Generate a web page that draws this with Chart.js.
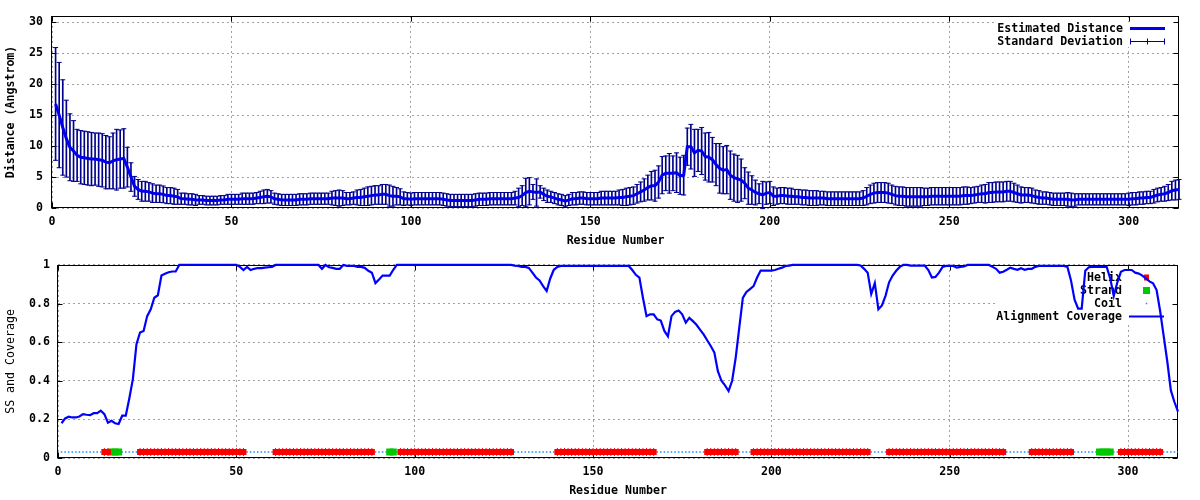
<!DOCTYPE html>
<html>
<head>
<meta charset="utf-8">
<title>Estimated distance and alignment coverage</title>
<script src="https://cdn.jsdelivr.net/npm/chart.js@4.4.1/dist/chart.umd.min.js"></script>
<style>
  body { margin: 0; background: #fff; }
  .panel { position: absolute; left: 0; width: 1200px; height: 250px; }
</style>
</head>
<body>
<div class="panel" style="top:0"><canvas id="distChart" width="1200" height="250"></canvas></div>
<div class="panel" style="top:250px"><canvas id="covChart" width="1200" height="250"></canvas></div>
<script>
// estimated distance per residue (Angstrom), residues 1..314
const meanDist = [
  16.8, 15.0, 13.0, 11.2, 9.8, 9.2, 8.5, 8.2, 8.1, 8.0,
  7.9, 7.9, 7.8, 7.7, 7.4, 7.3, 7.6, 7.8, 7.9, 8.0,
  6.6, 5.0, 3.5, 3.0, 2.7, 2.7, 2.6, 2.4, 2.3, 2.3,
  2.2, 2.0, 2.0, 1.9, 1.8, 1.5, 1.5, 1.4, 1.4, 1.3,
  1.3, 1.3, 1.2, 1.2, 1.2, 1.2, 1.3, 1.3, 1.4, 1.4,
  1.4, 1.4, 1.5, 1.5, 1.5, 1.5, 1.6, 1.7, 1.8, 1.9,
  1.8, 1.5, 1.4, 1.3, 1.3, 1.3, 1.3, 1.3, 1.4, 1.4,
  1.4, 1.5, 1.5, 1.5, 1.5, 1.5, 1.5, 1.6, 1.6, 1.6,
  1.6, 1.5, 1.5, 1.6, 1.7, 1.7, 1.8, 1.9, 2.0, 2.1,
  2.1, 2.2, 2.2, 2.0, 1.9, 1.9, 1.8, 1.5, 1.5, 1.4,
  1.5, 1.5, 1.5, 1.5, 1.5, 1.5, 1.5, 1.5, 1.4, 1.3,
  1.2, 1.2, 1.2, 1.2, 1.2, 1.2, 1.2, 1.3, 1.4, 1.4,
  1.4, 1.5, 1.5, 1.5, 1.5, 1.5, 1.5, 1.5, 1.6, 1.7,
  2.0, 2.5, 2.7, 2.6, 2.5, 2.6, 2.2, 1.9, 1.8, 1.6,
  1.4, 1.3, 1.1, 1.3, 1.5, 1.5, 1.6, 1.6, 1.5, 1.5,
  1.5, 1.5, 1.6, 1.6, 1.6, 1.6, 1.6, 1.7, 1.7, 1.8,
  1.9, 2.0, 2.3, 2.6, 2.9, 3.3, 3.6, 3.6, 4.2, 5.3,
  5.6, 5.6, 5.6, 5.7, 5.2, 5.3, 9.9, 9.9, 8.9, 9.3,
  9.2, 8.3, 8.2, 7.8, 7.0, 6.4, 6.1, 6.2, 5.3, 4.9,
  4.7, 4.5, 4.0, 3.2, 2.9, 2.5, 2.3, 2.1, 2.4, 2.5,
  1.9, 1.9, 2.0, 2.0, 1.9, 1.9, 1.8, 1.8, 1.7, 1.7,
  1.6, 1.6, 1.6, 1.6, 1.6, 1.5, 1.5, 1.5, 1.5, 1.5,
  1.5, 1.5, 1.5, 1.5, 1.5, 1.6, 1.9, 2.2, 2.4, 2.5,
  2.5, 2.5, 2.4, 2.2, 2.0, 1.9, 1.9, 1.8, 1.8, 1.8,
  1.8, 1.8, 1.8, 1.8, 1.9, 1.9, 1.9, 1.9, 1.9, 1.9,
  1.9, 1.9, 1.9, 2.0, 2.0, 2.0, 2.1, 2.2, 2.3, 2.3,
  2.5, 2.5, 2.6, 2.6, 2.6, 2.7, 2.7, 2.5, 2.3, 2.1,
  2.1, 2.1, 2.0, 1.8, 1.7, 1.6, 1.6, 1.5, 1.4, 1.4,
  1.4, 1.4, 1.4, 1.3, 1.3, 1.4, 1.4, 1.4, 1.4, 1.4,
  1.4, 1.4, 1.4, 1.4, 1.4, 1.4, 1.4, 1.4, 1.4, 1.4,
  1.5, 1.5, 1.6, 1.6, 1.7, 1.7, 1.9, 2.1, 2.2, 2.3,
  2.5, 2.8, 2.9, 3.0
];

// standard deviation per residue
const sdDist = [
  9.1, 8.5, 7.7, 6.2, 5.4, 4.9, 4.2, 4.3, 4.3, 4.3,
  4.3, 4.2, 4.3, 4.3, 4.3, 4.2, 4.5, 4.9, 4.7, 4.8,
  3.2, 2.3, 1.6, 1.6, 1.6, 1.6, 1.5, 1.5, 1.4, 1.4,
  1.35, 1.3, 1.3, 1.3, 1.2, 0.9, 0.9, 0.9, 0.9, 0.9,
  0.7, 0.7, 0.7, 0.7, 0.7, 0.7, 0.7, 0.7, 0.8, 0.8,
  0.8, 0.8, 0.9, 0.9, 0.9, 0.9, 0.9, 1.0, 1.1, 1.1,
  1.0, 0.9, 0.9, 0.9, 0.9, 0.9, 0.9, 0.9, 0.9, 0.9,
  0.9, 0.9, 0.9, 0.9, 0.9, 0.9, 0.9, 1.1, 1.2, 1.3,
  1.2, 1.0, 1.0, 1.0, 1.2, 1.3, 1.4, 1.5, 1.5, 1.5,
  1.5, 1.6, 1.6, 1.7, 1.6, 1.4, 1.3, 1.1, 1.0, 1.0,
  1.0, 1.0, 1.0, 1.0, 1.0, 1.0, 1.0, 1.0, 1.0, 1.0,
  1.0, 1.0, 1.0, 1.0, 1.0, 1.0, 1.0, 1.0, 1.0, 1.0,
  1.0, 1.0, 1.0, 1.0, 1.0, 1.0, 1.0, 1.0, 1.1, 1.5,
  1.6, 2.3, 2.2, 1.2, 2.2, 1.0, 1.0, 1.0, 0.9, 0.9,
  0.9, 0.9, 0.9, 0.9, 1.0, 1.0, 1.0, 1.0, 1.0, 1.0,
  1.0, 1.0, 1.1, 1.1, 1.1, 1.1, 1.1, 1.2, 1.3, 1.4,
  1.4, 1.4, 1.5, 1.6, 1.8, 2.0, 2.3, 2.5, 2.6, 3.0,
  2.8, 3.2, 2.8, 3.2, 3.0, 3.2, 3.0, 3.6, 3.8, 3.4,
  3.8, 3.8, 4.0, 3.6, 3.4, 4.0, 3.8, 3.9, 3.9, 3.8,
  3.8, 3.4, 2.5, 2.6, 2.3, 2.0, 1.6, 2.2, 1.8, 1.8,
  1.5, 1.3, 1.3, 1.3, 1.3, 1.3, 1.2, 1.2, 1.2, 1.2,
  1.2, 1.2, 1.2, 1.1, 1.1, 1.1, 1.1, 1.1, 1.1, 1.1,
  1.1, 1.1, 1.1, 1.1, 1.1, 1.2, 1.4, 1.5, 1.6, 1.6,
  1.6, 1.6, 1.6, 1.5, 1.5, 1.5, 1.5, 1.5, 1.5, 1.5,
  1.5, 1.5, 1.4, 1.4, 1.4, 1.4, 1.4, 1.4, 1.4, 1.4,
  1.4, 1.4, 1.4, 1.4, 1.4, 1.3, 1.3, 1.3, 1.4, 1.5,
  1.6, 1.6, 1.6, 1.6, 1.6, 1.6, 1.6, 1.5, 1.4, 1.3,
  1.2, 1.2, 1.2, 1.1, 1.1, 1.0, 1.0, 1.0, 1.0, 1.0,
  1.0, 1.0, 1.1, 1.1, 1.0, 0.9, 0.9, 0.9, 0.9, 0.9,
  0.9, 0.9, 0.9, 0.9, 0.9, 0.9, 0.9, 0.9, 0.9, 1.0,
  1.0, 1.0, 1.0, 1.0, 1.0, 1.0, 1.1, 1.1, 1.1, 1.2,
  1.3, 1.5, 1.6, 1.6
];

// alignment coverage per residue
const coverage = [
  0.18, 0.205, 0.214, 0.21, 0.21, 0.215, 0.227, 0.224, 0.222, 0.232,
  0.232, 0.245, 0.227, 0.183, 0.193, 0.18, 0.176, 0.219, 0.219, 0.31,
  0.41, 0.59, 0.65, 0.658, 0.735, 0.77, 0.83, 0.843, 0.945, 0.954,
  0.962, 0.966, 0.966, 1, 1, 1, 1, 1, 1, 1,
  1, 1, 1, 1, 1, 1, 1, 1, 1, 1,
  0.99, 0.974, 0.99, 0.974, 0.98, 0.984, 0.984, 0.986, 0.988, 0.99,
  1, 1, 1, 1, 1, 1, 1, 1, 1, 1,
  1, 1, 1, 0.98, 1, 0.988, 0.985, 0.98, 0.98, 1,
  0.995, 0.995, 0.995, 0.99, 0.99, 0.985, 0.97, 0.96, 0.906, 0.925,
  0.945, 0.945, 0.945, 0.975, 1, 1, 1, 1, 1, 1,
  1, 1, 1, 1, 1, 1, 1, 1, 1, 1,
  1, 1, 1, 1, 1, 1, 1, 1, 1, 1,
  1, 1, 1, 1, 1, 1, 1, 0.997, 0.995, 0.99,
  0.99, 0.985, 0.96, 0.935, 0.92, 0.89, 0.865, 0.93, 0.975, 0.99,
  0.995, 0.995, 0.995, 0.995, 0.995, 0.995, 0.995, 0.995, 0.995, 0.995,
  0.995, 0.995, 0.995, 0.995, 0.995, 0.995, 0.995, 0.995, 0.995, 0.995,
  0.974, 0.949, 0.935, 0.829, 0.735, 0.744, 0.744, 0.718, 0.712, 0.658,
  0.63, 0.735, 0.757, 0.764, 0.744, 0.701, 0.726, 0.709, 0.69, 0.665,
  0.64, 0.61, 0.58, 0.547, 0.45, 0.40, 0.376, 0.347, 0.40, 0.52,
  0.675, 0.829, 0.86, 0.875, 0.89, 0.935, 0.971, 0.971, 0.971, 0.971,
  0.974, 0.98, 0.986, 0.995, 0.997, 1, 1, 1, 1, 1,
  1, 1, 1, 1, 1, 1, 1, 1, 1, 1,
  1, 1, 1, 1, 0.997, 0.98, 0.96, 0.85, 0.906, 0.77,
  0.79, 0.84, 0.91, 0.945, 0.97, 0.99, 1, 1, 0.997, 0.997,
  0.997, 0.997, 0.997, 0.974, 0.935, 0.938, 0.96, 0.99, 0.995, 0.995,
  0.995, 0.986, 0.99, 0.992, 1, 1, 1, 1, 1, 1,
  1, 0.99, 0.98, 0.96, 0.965, 0.975, 0.986, 0.98, 0.975, 0.983,
  0.975, 0.98, 0.98, 0.99, 0.995, 0.995, 0.995, 0.995, 0.995, 0.995,
  0.995, 0.995, 0.99, 0.92, 0.82, 0.774, 0.774, 0.97, 0.988, 0.99,
  0.99, 0.99, 0.99, 0.99, 0.93, 0.84, 0.91, 0.965, 0.974, 0.974,
  0.974, 0.96, 0.955, 0.945, 0.93, 0.915, 0.905, 0.87, 0.76, 0.63,
  0.5, 0.35, 0.29, 0.24
];

// secondary structure, residue ranges (inclusive)
const helixRanges = [[13, 14], [23, 52], [61, 88], [96, 127], [140, 167], [182, 190], [195, 227], [233, 265], [273, 284], [298, 309]];
const strandRanges = [[15, 17], [93, 94], [292, 295]];

const residues = meanDist.map((v, i) => i + 1);

const ssLevel = 0.031;

function inRanges(r, ranges) {
  return ranges.some(([a, b]) => r >= a && r <= b);
}
const helixRes = residues.filter(r => inRanges(r, helixRanges));
const strandRes = residues.filter(r => inRanges(r, strandRanges));
const coilRes = residues.filter(r => !inRanges(r, helixRanges) && !inRanges(r, strandRanges));

const FAMILY = "'DejaVu Sans Mono', 'Liberation Mono', monospace";
const fontBold = { family: FAMILY, size: 11.6, weight: 'bold' };
const fontPlain = { family: FAMILY, size: 11.6, weight: 'normal' };

const BLUE = '#0000ee';
const NAVY = '#00008b';

// gnuplot-like frame, inward ticks and key drawn behind the data
const gnuFrame = {
  id: 'gnuFrame',
  beforeDatasetsDraw(chart, args, opts) {
    const { ctx, chartArea: a, scales } = chart;
    ctx.save();

    // the key box hides the grid behind it
    ctx.fillStyle = '#fff';
    ctx.fillRect(a.right - 183, a.top + opts.keyTop, 182, opts.keyHeight);

    const L = Math.round(a.left) - 0.5, R = Math.round(a.right) - 0.5;
    const T = Math.round(a.top) + 0.5, B = Math.round(a.bottom) - 0.5;
    ctx.strokeStyle = '#000';
    ctx.lineWidth = 1;
    ctx.strokeRect(L, T, R - L, B - T);

    ctx.beginPath();
    scales.x.ticks.forEach(t => {
      const px = Math.round(scales.x.getPixelForValue(t.value)) + 0.5;
      ctx.moveTo(px, B); ctx.lineTo(px, B - 5);
      ctx.moveTo(px, T); ctx.lineTo(px, T + 5);
    });
    scales.y.ticks.forEach(t => {
      const py = Math.round(scales.y.getPixelForValue(t.value)) + 0.5;
      ctx.moveTo(L, py); ctx.lineTo(L + 5, py);
      ctx.moveTo(R, py); ctx.lineTo(R - 5, py);
    });
    ctx.stroke();

    // key
    ctx.font = 'bold 11.6px ' + FAMILY;
    ctx.textAlign = 'right';
    ctx.textBaseline = 'middle';
    const textX = a.right - 56;
    const x1 = a.right - 49, x2 = a.right - 14, xm = (x1 + x2) / 2;
    opts.items.forEach((it, k) => {
      const y = Math.round(a.top + 12 + k * 13) + 0.5;
      ctx.fillStyle = '#000';
      ctx.fillText(it.label, textX, y);
      ctx.strokeStyle = it.color;
      ctx.fillStyle = it.color;
      if (it.kind === 'line') {
        ctx.lineWidth = it.width;
        ctx.beginPath(); ctx.moveTo(x1, y); ctx.lineTo(x2, y); ctx.stroke();
      } else if (it.kind === 'errbar') {
        ctx.lineWidth = 1;
        ctx.beginPath();
        ctx.moveTo(x1, y); ctx.lineTo(x2, y);
        [x1 + 0.5, xm, x2 - 0.5].forEach(x => { ctx.moveTo(x, y - 3); ctx.lineTo(x, y + 3); });
        ctx.stroke();
      } else if (it.kind === 'square') {
        ctx.fillRect(xm - it.w / 2, y - it.h / 2, it.w, it.h);
      } else if (it.kind === 'dot') {
        ctx.fillRect(xm - 0.75, y - 0.75, 1.5, 1.5);
      }
    });
    ctx.restore();
  }
};

// tick labels like gnuplot: 0, 0.2, ... 1
const plainNumber = v => String(Number(v.toFixed(2)));

function xAxis(max) {
  return {
    type: 'linear', min: 0, max: max, offset: false,
    afterFit: s => { s.height = 42; },
    ticks: { stepSize: 50, includeBounds: false, autoSkip: false, maxRotation: 0, padding: 7, color: '#000', font: fontBold },
    grid: { color: '#a0a0a0', lineWidth: 1, drawTicks: false, offset: false },
    border: { display: false, dash: [2, 3] },
    title: { display: true, text: 'Residue Number', color: '#000', font: fontBold, padding: { top: 0, bottom: 2 } }
  };
}

// ---- top panel: estimated distance with standard deviation ----
const distPoints = residues.map((r, i) => ({ x: r, y: meanDist[i] }));
const errSpans = residues.map((r, i) => ({ x: r, y: [meanDist[i] - sdDist[i], meanDist[i] + sdDist[i]] }));
const errTops = residues.map((r, i) => ({ x: r, y: meanDist[i] + sdDist[i] }));
const errBottoms = residues.map((r, i) => ({ x: r, y: meanDist[i] - sdDist[i] }));

const capStyle = {
  type: 'line', showLine: false, pointStyle: 'line', pointRadius: 2.5,
  pointBorderWidth: 1, pointBorderColor: NAVY, borderColor: NAVY, clip: false
};

new Chart(document.getElementById('distChart'), {
  type: 'line',
  data: {
    datasets: [
      { label: 'Estimated Distance', data: distPoints, borderColor: BLUE, borderWidth: 3, pointRadius: 0, tension: 0 },
      Object.assign({ label: 'sd top', data: errTops }, capStyle),
      Object.assign({ label: 'sd bottom', data: errBottoms }, capStyle),
      { type: 'bar', label: 'Standard Deviation', data: errSpans, backgroundColor: NAVY, borderWidth: 0, barThickness: 1, clip: false }
    ]
  },
  options: {
    responsive: false,
    animation: false,
    events: [],
    layout: { padding: { top: 14, right: 21, left: 0, bottom: 0 } },
    scales: {
      x: xAxis(314),
      y: {
        min: 0, max: 31,
        afterFit: s => { s.width = 52; },
        ticks: { stepSize: 5, includeBounds: false, padding: 9, color: '#000', font: fontBold, callback: plainNumber },
        grid: { color: '#a0a0a0', lineWidth: 1, drawTicks: false },
        border: { display: false, dash: [2, 3] },
        title: { display: true, text: 'Distance (Angstrom)', color: '#000', font: fontBold, padding: { top: 4, bottom: 0 } }
      }
    },
    plugins: {
      legend: { display: false },
      tooltip: { enabled: false },
      gnuFrame: {
        keyTop: 6, keyHeight: 25,
        items: [
          { label: 'Estimated Distance', kind: 'line', color: BLUE, width: 3 },
          { label: 'Standard Deviation', kind: 'errbar', color: NAVY }
        ]
      }
    }
  },
  plugins: [gnuFrame]
});

// ---- bottom panel: secondary structure and alignment coverage ----
const covPoints = residues.map((r, i) => ({ x: r, y: coverage[i] }));

new Chart(document.getElementById('covChart'), {
  type: 'line',
  data: {
    datasets: [
      { label: 'Alignment Coverage', data: covPoints, borderColor: '#0000ff', borderWidth: 2.2, pointRadius: 0, tension: 0, clip: false },
      { label: 'Helix', data: helixRes.map(r => ({ x: r, y: ssLevel })), showLine: false,
        pointStyle: 'rect', pointRadius: 4.24, pointBorderWidth: 0, pointBackgroundColor: '#ff0000' },
      { label: 'Helix ticks', data: helixRes.map(r => ({ x: r, y: ssLevel })), showLine: false,
        pointStyle: 'line', pointRotation: 90, pointRadius: 4, pointBorderWidth: 1, pointBorderColor: '#ff0000' },
      { label: 'Strand', data: strandRes.map(r => ({ x: r, y: ssLevel })), showLine: false,
        pointStyle: 'rect', pointRadius: 4.95, pointBorderWidth: 0, pointBackgroundColor: '#00c800' },
      { label: 'Coil', data: coilRes.map(r => ({ x: r, y: ssLevel })), showLine: false,
        pointStyle: 'rect', pointRadius: 1.1, pointBorderWidth: 0, pointBackgroundColor: '#1e90ff' }
    ]
  },
  options: {
    responsive: false,
    animation: false,
    events: [],
    layout: { padding: { top: 13, right: 22, left: 0, bottom: 0 } },
    scales: {
      x: xAxis(314),
      y: {
        min: 0, max: 1,
        afterFit: s => { s.width = 58; },
        ticks: { stepSize: 0.2, padding: 8, color: '#000', font: fontBold, callback: plainNumber },
        grid: { color: '#a0a0a0', lineWidth: 1, drawTicks: false },
        border: { display: false, dash: [2, 3] },
        title: { display: true, text: 'SS and Coverage', color: '#000', font: fontPlain, padding: { top: 4, bottom: 0 } }
      }
    },
    plugins: {
      legend: { display: false },
      tooltip: { enabled: false },
      gnuFrame: {
        keyTop: 3, keyHeight: 54,
        items: [
          { label: 'Helix', kind: 'square', color: '#ff0000', w: 5, h: 6 },
          { label: 'Strand', kind: 'square', color: '#00c800', w: 7, h: 7 },
          { label: 'Coil', kind: 'dot', color: '#1e90ff' },
          { label: 'Alignment Coverage', kind: 'line', color: '#0000ff', width: 2.2 }
        ]
      }
    }
  },
  plugins: [gnuFrame]
});
</script>
</body>
</html>
